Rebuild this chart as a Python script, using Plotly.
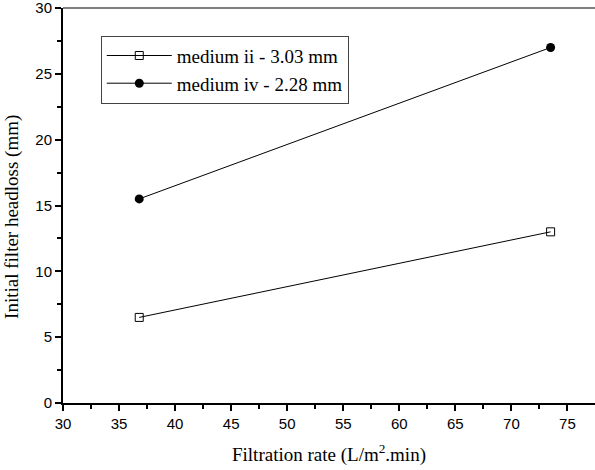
import plotly.graph_objects as go

rates = [36.8, 73.5]
medium_ii = [6.5, 13.0]
medium_iv = [15.5, 27.0]
names = ["medium ii - 3.03 mm", "medium iv - 2.28 mm"]
xticks = [30, 35, 40, 45, 50, 55, 60, 65, 70, 75]
yticks = [0, 5, 10, 15, 20, 25, 30]

fig = go.Figure()
fig.add_trace(go.Scatter(x=rates, y=medium_ii, name=names[0], mode="lines+markers",
                         line=dict(color="black", width=1),
                         marker=dict(symbol="square-open", size=8, color="black", line=dict(width=1))))
fig.add_trace(go.Scatter(x=rates, y=medium_iv, name=names[1], mode="lines+markers",
                         line=dict(color="black", width=1),
                         marker=dict(symbol="circle", size=9, color="black")))

fig.update_layout(
    width=595, height=470,
    margin=dict(l=63, r=0, t=8, b=67),
    paper_bgcolor="white", plot_bgcolor="white",
    showlegend=True,
    legend=dict(x=0.071, y=0.93, xanchor="left", yanchor="top",
                bordercolor="#444", borderwidth=1, bgcolor="white",
                font=dict(family="Liberation Serif", size=19, color="black"),
                tracegroupgap=0, itemwidth=65),
    font=dict(family="Liberation Sans", size=15, color="black"),
)
fig.update_xaxes(range=[30, 77.46], tickvals=xticks, ticks="outside", ticklen=6, tickwidth=1.5,
                 tickcolor="black", showline=True, linecolor="black", linewidth=2,
                 showgrid=False, zeroline=False, mirror=False, ticklabeloverflow="allow",
                 minor=dict(dtick=2.5, tick0=30, ticks="outside", ticklen=4, tickcolor="black", tickwidth=1.5, showgrid=False),
                 tickfont=dict(family="Liberation Sans", size=15),
                 title=dict(text="Filtration rate (L/m<sup>2</sup>.min)",
                            font=dict(family="Liberation Serif", size=19), standoff=17))
fig.update_yaxes(range=[0, 30], tickvals=yticks, ticks="outside", ticklen=6, tickwidth=1.5,
                 tickcolor="black", showline=True, linecolor="black", linewidth=2,
                 showgrid=False, zeroline=False, ticklabeloverflow="allow",
                 minor=dict(dtick=2.5, tick0=0, ticks="outside", ticklen=4, tickcolor="black", tickwidth=1.5, showgrid=False),
                 tickfont=dict(family="Liberation Sans", size=15))
fig.add_annotation(text="Initial filter headloss (mm)", xref="paper", yref="paper",
                   x=-0.096, y=0.471, xanchor="center", yanchor="middle", textangle=-90,
                   showarrow=False, font=dict(family="Liberation Serif", size=19, color="black"))
fig.add_shape(type="line", xref="paper", yref="paper", x0=0, x1=1, y0=1, y1=1,
              line=dict(color="#555", width=1.5))
fig.write_html("out.html")
